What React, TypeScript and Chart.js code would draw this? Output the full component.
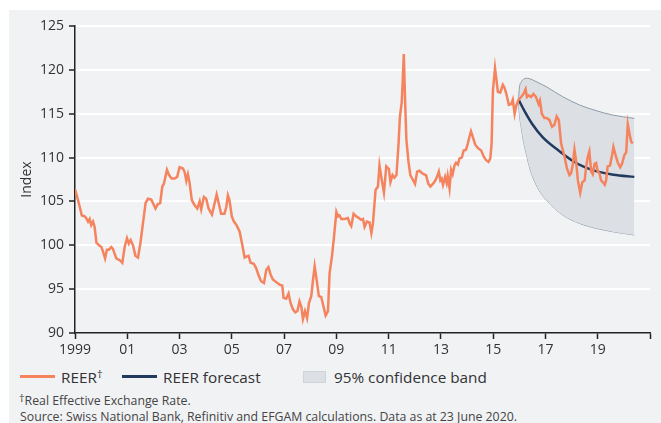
import React, { useEffect, useRef } from "react";
import { Chart, registerables } from "chart.js";

Chart.register(...registerables);

const reerYears = [
  1999.0, 1999.11, 1999.18, 1999.26, 1999.37, 1999.43, 1999.5, 1999.56, 1999.62, 1999.69, 1999.75, 1999.82, 1999.92,
  2000.01, 2000.07, 2000.15, 2000.22, 2000.3, 2000.39, 2000.45, 2000.58, 2000.65, 2000.71, 2000.81, 2000.9, 2000.99,
  2001.06, 2001.13, 2001.22, 2001.31, 2001.41, 2001.5, 2001.6, 2001.7, 2001.79, 2001.92,
  2002.08, 2002.17, 2002.26, 2002.34, 2002.4, 2002.52, 2002.6, 2002.7, 2002.81, 2002.91,
  2003.0, 2003.13, 2003.19, 2003.26, 2003.32, 2003.38, 2003.47, 2003.57, 2003.68, 2003.77, 2003.83, 2003.93,
  2004.02, 2004.11, 2004.24, 2004.31, 2004.42, 2004.5, 2004.59, 2004.72, 2004.79, 2004.85, 2004.91,
  2005.0, 2005.08, 2005.18, 2005.3, 2005.39, 2005.49, 2005.55, 2005.64, 2005.72, 2005.84, 2005.93,
  2006.02, 2006.12, 2006.23, 2006.32, 2006.4, 2006.48, 2006.57, 2006.7, 2006.83, 2006.93, 2006.98,
  2007.08, 2007.17, 2007.25, 2007.34, 2007.43, 2007.51, 2007.59, 2007.66, 2007.72, 2007.8, 2007.88, 2007.95,
  2008.04, 2008.1, 2008.17, 2008.23, 2008.33, 2008.42, 2008.51, 2008.59, 2008.68, 2008.74, 2008.83, 2008.91,
  2009.0, 2009.06, 2009.12, 2009.19, 2009.32, 2009.44, 2009.51, 2009.57, 2009.66, 2009.76, 2009.86, 2009.95,
  2010.02, 2010.08, 2010.17, 2010.27, 2010.34, 2010.4, 2010.5, 2010.59, 2010.65, 2010.74, 2010.82, 2010.91,
  2011.01, 2011.07, 2011.15, 2011.22, 2011.3, 2011.38, 2011.43, 2011.5, 2011.54, 2011.58, 2011.63, 2011.68, 2011.76, 2011.83, 2011.92,
  2012.01, 2012.09, 2012.18, 2012.27, 2012.34, 2012.43, 2012.52, 2012.6, 2012.69, 2012.78, 2012.85, 2012.92, 2012.98,
  2013.03, 2013.08, 2013.16, 2013.22, 2013.26, 2013.33, 2013.39, 2013.45, 2013.52, 2013.58, 2013.65, 2013.71, 2013.8, 2013.87, 2013.96,
  2014.03, 2014.09, 2014.15, 2014.22, 2014.31, 2014.41, 2014.54, 2014.64, 2014.73, 2014.82, 2014.89, 2014.94, 2014.99,
  2015.07, 2015.12, 2015.18, 2015.27, 2015.37, 2015.43, 2015.5, 2015.6, 2015.69, 2015.75, 2015.82, 2015.88, 2015.97,
  2016.07, 2016.16, 2016.24, 2016.29, 2016.36, 2016.45, 2016.54, 2016.64, 2016.74, 2016.79, 2016.86, 2016.96,
  2017.05, 2017.15, 2017.25, 2017.34, 2017.43, 2017.51, 2017.6, 2017.73, 2017.82, 2017.92, 2017.98,
  2018.05, 2018.11, 2018.17, 2018.24, 2018.33, 2018.41, 2018.5, 2018.56, 2018.62, 2018.68, 2018.75, 2018.81, 2018.88, 2018.94,
  2019.0, 2019.07, 2019.13, 2019.22, 2019.27, 2019.32, 2019.38, 2019.47, 2019.55, 2019.6, 2019.68, 2019.77, 2019.86, 2019.93,
  2020.02, 2020.09, 2020.15, 2020.21, 2020.28, 2020.34,
];

const reerValues = [
  106.4, 105.2, 104.4, 103.4, 103.3, 103.1, 102.7, 103.0, 102.3, 102.7, 102.1, 100.3, 100.0,
  99.8, 99.3, 98.5, 99.5, 99.5, 99.8, 99.6, 98.5, 98.4, 98.3, 98.0, 99.8, 100.8,
  100.2, 100.6, 100.0, 98.8, 98.6, 100.2, 102.5, 104.8, 105.3, 105.2,
  104.2, 104.7, 104.8, 106.7, 107.0, 108.6, 108.0, 107.6, 107.6, 107.8,
  108.9, 108.75, 108.4, 107.35, 108.1, 107.2, 105.15, 104.6, 104.2, 105.0, 104.1, 105.5,
  105.3, 104.2, 103.5, 104.4, 105.8, 104.8, 103.6, 103.6, 104.4, 105.7, 105.15,
  103.3, 102.7, 102.3, 101.55, 100.2, 98.6, 98.7, 98.8, 98.0, 97.9, 97.4,
  96.6, 95.9, 95.7, 97.2, 97.5, 96.7, 96.1, 95.8, 95.5, 95.4, 94.0,
  93.9, 94.5, 93.4, 92.7, 92.35, 92.5, 93.6, 93.0, 91.6, 92.5, 91.7, 93.4,
  94.2, 95.9, 97.6, 96.4, 94.2, 94.1, 93.0, 92.0, 92.5, 96.8, 98.7, 101.0,
  103.8, 103.3, 103.4, 103.0, 103.0, 103.1, 102.5, 102.2, 103.6, 103.3, 103.1, 102.9,
  103.0, 102.1, 102.7, 102.6, 101.4, 102.5, 106.3, 106.7, 109.1, 107.4, 106.0, 109.0,
  108.7, 107.2, 108.0, 107.7, 108.0, 111.6, 114.6, 116.3, 118.8, 121.8, 116.5, 112.0, 109.5, 108.0, 107.5,
  107.0, 108.4, 108.5, 108.25, 108.1, 108.0, 107.0, 106.7, 107.0, 107.35, 107.8, 108.4, 107.4,
  107.6, 106.9, 107.8, 107.1, 107.9, 106.5, 108.6, 108.1, 109.1, 109.4, 109.2, 109.9, 110.0, 110.8, 110.9,
  111.6, 112.35, 113.0, 112.35, 111.5, 111.1, 110.8, 110.1, 109.7, 109.5, 109.9, 111.6, 117.65,
  120.2, 119.0, 117.5, 117.4, 118.3, 118.0, 117.3, 116.0, 116.1, 116.6, 115.0, 115.9, 116.6,
  116.9, 117.25, 117.8, 116.9, 117.1, 116.9, 117.25, 116.9, 116.1, 116.5, 115.0, 114.5,
  114.5, 114.3, 113.5, 113.7, 114.7, 114.3, 111.6, 110.1, 108.8, 108.0, 108.2,
  109.3, 110.9, 109.7, 107.4, 106.0, 107.2, 107.4, 109.0, 110.1, 110.7, 108.4, 108.1, 109.3, 109.4,
  108.4, 108.2, 107.4, 107.1, 106.9, 107.4, 109.0, 109.1, 110.3, 111.2, 110.3, 109.4, 108.9, 109.3,
  110.3, 110.6, 113.8, 112.8, 111.8, 111.6,
];

const forecastYears = [2015.97, 2016.2, 2016.5, 2016.9, 2017.5, 2018.0, 2018.5, 2019.0, 2019.6, 2020.4];
const forecastValues = [116.6, 115.3, 113.8, 112.3, 110.8, 109.7, 108.9, 108.4, 108.05, 107.8];

const bandYears = [2015.97, 2016.0, 2016.07, 2016.15, 2016.26, 2016.38, 2016.51, 2016.75, 2017.03, 2017.66, 2018.3, 2018.94, 2019.57, 2020.4];
const bandUpper = [116.6, 117.9, 118.6, 118.9, 119.04, 119.0, 118.85, 118.5, 118.08, 116.94, 116.0, 115.35, 114.85, 114.47];
const bandLower = [116.6, 115.0, 113.5, 112.0, 110.5, 109.0, 107.8, 106.3, 105.16, 103.45, 102.5, 101.93, 101.55, 101.17];

const xTickValues = [1999, 2001, 2003, 2005, 2007, 2009, 2011, 2013, 2015, 2017, 2019, 2021];
const xTickLabels = ["1999", "01", "03", "05", "07", "09", "11", "13", "15", "17", "19", ""];
const yTickValues = [90, 95, 100, 105, 110, 115, 120, 125];

const FONT = "'Open Sans', 'Noto Sans', sans-serif";
const ORANGE = "#f5835e";
const NAVY = "#223a5e";
const BAND_FILL = "#dce0e4";
const BAND_LINE = "#8d9ba6";
const TEXT = "#333333";

const toPoints = (xs: number[], ys: number[]) => xs.map((x, i) => ({ x, y: ys[i] }));

export default function App() {
  const canvasRef = useRef<HTMLCanvasElement | null>(null);

  useEffect(() => {
    const canvas = canvasRef.current;
    if (!canvas) return;
    const chart = new Chart(canvas, {
      type: "line",
      data: {
        datasets: [
          {
            label: "REER",
            data: toPoints(reerYears, reerValues),
            borderColor: ORANGE,
            borderWidth: 2.5,
            pointRadius: 0,
            tension: 0,
            fill: false,
            order: 0,
          },
          {
            label: "REER forecast",
            data: toPoints(forecastYears, forecastValues),
            borderColor: NAVY,
            borderWidth: 2.5,
            pointRadius: 0,
            cubicInterpolationMode: "monotone",
            fill: false,
            order: 1,
          },
          {
            label: "upper",
            data: toPoints(bandYears, bandUpper),
            borderColor: BAND_LINE,
            borderWidth: 1,
            backgroundColor: BAND_FILL,
            pointRadius: 0,
            cubicInterpolationMode: "monotone",
            fill: "+1",
            order: 2,
          },
          {
            label: "lower",
            data: toPoints(bandYears, bandLower),
            borderColor: BAND_LINE,
            borderWidth: 1,
            pointRadius: 0,
            cubicInterpolationMode: "monotone",
            fill: false,
            order: 3,
          },
        ],
      } as any,
      options: {
        responsive: false,
        animation: false,
        layout: { padding: { top: 16, right: 11, left: 0, bottom: 0 } },
        plugins: {
          legend: { display: false },
          tooltip: { enabled: false },
        },
        scales: {
          x: {
            type: "linear",
            min: 1999,
            max: 2021,
            afterBuildTicks: (s: any) => {
              s.ticks = xTickValues.map((v) => ({ value: v }));
            },
            afterFit: (s: any) => {
              s.height = 27;
            },
            ticks: {
              autoSkip: false,
              maxRotation: 0,
              color: TEXT,
              padding: 3,
              font: { family: FONT, size: 14 },
              callback: (_v: any, i: number) => xTickLabels[i],
            },
            grid: {
              drawOnChartArea: false,
              tickLength: 6,
              tickColor: "#222",
              tickWidth: 1.5,
            },
            border: { color: "#222", width: 1.5 },
          },
          y: {
            type: "linear",
            min: 90,
            max: 125,
            afterBuildTicks: (s: any) => {
              s.ticks = yTickValues.map((v) => ({ value: v }));
            },
            afterFit: (s: any) => {
              s.width = 66;
            },
            ticks: {
              color: TEXT,
              padding: 5,
              font: { family: FONT, size: 14 },
            },
            grid: {
              color: (ctx: any) => (ctx.tick && ctx.tick.value === 90 ? "rgba(0,0,0,0)" : "#ffffff"),
              lineWidth: 2,
              tickLength: 6,
              tickColor: "#222",
              tickWidth: 1.5,
            },
            border: { color: "#222", width: 1.5 },
            title: {
              display: true,
              text: "Index",
              color: TEXT,
              font: { family: FONT, size: 14 },
              padding: { top: 10, bottom: 0 },
            },
          },
        },
      } as any,
    });
    return () => chart.destroy();
  }, []);

  const legendText: React.CSSProperties = {
    position: "absolute",
    fontFamily: FONT,
    fontSize: 15.3,
    color: TEXT,
    lineHeight: "18px",
    whiteSpace: "nowrap",
  };
  const noteText: React.CSSProperties = {
    position: "absolute",
    fontFamily: FONT,
    fontSize: 12.3,
    color: "#444",
    lineHeight: "14px",
    whiteSpace: "nowrap",
  };

  return (
    <div
      style={{
        position: "absolute",
        left: 9,
        top: 10,
        width: 652,
        height: 413,
        background: "#f1f2f4",
        overflow: "hidden",
      }}
    >
      <canvas ref={canvasRef} width={652} height={350} style={{ display: "block" }} />
      <div style={{ position: "absolute", left: 11, top: 365, width: 35, height: 3, background: ORANGE }} />
      <div style={{ ...legendText, left: 52, top: 358 }}>
        REER<sup style={{ fontSize: 11, verticalAlign: "top", position: "relative", top: -3 }}>†</sup>
      </div>
      <div style={{ position: "absolute", left: 113, top: 365, width: 35, height: 3, background: NAVY }} />
      <div style={{ ...legendText, left: 154, top: 358 }}>REER forecast</div>
      <div
        style={{
          position: "absolute",
          left: 294,
          top: 361,
          width: 23,
          height: 12,
          background: BAND_FILL,
          boxSizing: "border-box",
          border: "1px solid #cfd4d9",
        }}
      />
      <div style={{ ...legendText, left: 325, top: 358 }}>95% confidence band</div>
      <div style={{ ...noteText, left: 10, top: 384 }}>
        <span style={{ fontSize: 11, position: "relative", top: -3 }}>†</span>Real Effective Exchange Rate.
      </div>
      <div style={{ ...noteText, left: 11, top: 400 }}>
        Source: Swiss National Bank, Refinitiv and EFGAM calculations. Data as at 23 June 2020.
      </div>
    </div>
  );
}
